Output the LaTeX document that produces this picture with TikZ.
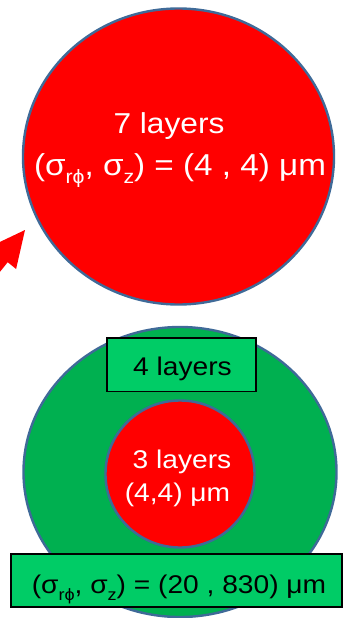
\documentclass[tikz,border=0pt]{standalone}
\usepackage{fontspec}
\usepackage{graphicx}
\setmainfont[FakeStretch=1.1]{Liberation Sans}
\usetikzlibrary{shapes.geometric}
\definecolor{rd}{HTML}{FF0000}
\definecolor{edgeblue}{HTML}{3F6A98}
\definecolor{grn}{HTML}{00B050}
\definecolor{lgrn}{HTML}{00CC66}
\newcommand{\lowtxt}[1]{\raisebox{-0.28em}{\scalebox{0.64}{#1}}}
\tikzset{
  disc/.style={ellipse, draw=edgeblue, line width=2.4pt, inner sep=0pt},
  boxst/.style={rectangle, draw=black, line width=1.4pt, fill=lgrn, inner sep=0pt},
  bigw/.style={text=white, inner sep=0pt, anchor=base, font=\fontsize{28.8}{34}\selectfont},
  smw/.style={text=white, inner sep=0pt, anchor=base, font=\fontsize{25.6}{31}\selectfont},
  smb/.style={text=black, inner sep=0pt, anchor=base, font=\fontsize{25.6}{31}\selectfont}
}
\begin{document}
\begin{tikzpicture}[x=1pt,y=-1pt]
\useasboundingbox (0,0) rectangle (343,618);
% arrow
\begin{scope}
\clip (0,0) rectangle (343,618);
\fill[rd] (25,230) -- (16.1,269.0) -- (7.7,262.2) -- (-29.9,309.1) -- (-40.3,300.9) -- (-2.7,254.0) -- (-11.1,247.2) -- cycle;
\end{scope}
% top circle
\node[disc, fill=rd, minimum width=311pt, minimum height=296pt] (topc) at (178.5,156.5) {};
\node[bigw] (t1) at (169,133) {7 layers};
\node[bigw, font=\fontsize{30.2}{36}\selectfont] (t2) at (180,175) {(σ\lowtxt{rϕ}, σ\lowtxt{z}) = (4 , 4) μm};
% bottom
\node[disc, fill=grn, minimum width=313pt, minimum height=290pt] (outer) at (180,472) {};
\node[disc, fill=rd, minimum width=149pt, minimum height=147pt] (inner) at (180,474) {};
\node[boxst, minimum width=149pt, minimum height=53.5pt] (box1) at (181.5,364.75) {};
\node[smb] (b1) at (182.5,375) {4 layers};
\node[smw] (i1) at (182,468) {3 layers};
\node[smw] (i2) at (177.5,501.5) {(4,4) μm};
\node[boxst, minimum width=331pt, minimum height=53pt] (box2) at (176.5,580.5) {};
\node[smb] (b2) at (179,593.3) {(σ\lowtxt{rϕ}, σ\lowtxt{z}) = (20 , 830) μm};
\end{tikzpicture}
\end{document}
